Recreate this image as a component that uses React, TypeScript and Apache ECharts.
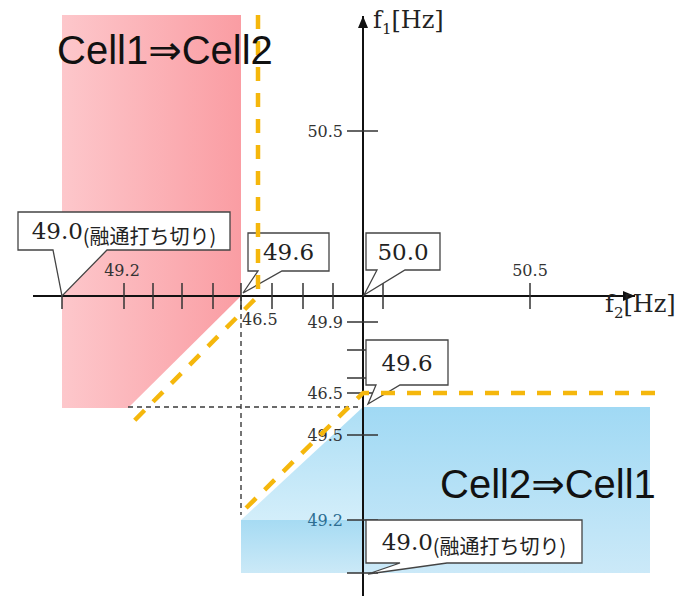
import { useEffect, useRef } from 'react';
import * as echarts from 'echarts';

// ---------- data (diagram units; origin = crossing of the f1 and f2 axes) ----------
const X_EXTENT = [-363, 318];
const Y_EXTENT = [-303, 296];

const F2_AXIS_LINE = [[-330, 0], [272, 0]];
const F1_AXIS_LINE = [[0, -300], [0, 280]];

const F2_TICKS = [-301, -239, -210, -181, -150, -122, -91, -60, -30, 20, 167];
const F1_TICKS = [165, -26, -54, -82, -97, -139, -224, -277];

const F2_TICK_LABELS = ['49.2', '46.5', '50.5'];
const F2_TICK_LABEL_VALUES = [-241, -121, 167];
const F1_TICK_LABELS = ['50.5', '49.9', '46.5', '49.5', '49.2'];
const F1_TICK_LABEL_VALUES = [165, -26, -97, -139, -224];

const CELL1_TO_CELL2_AREA = [[-301, 281], [-122, 281], [-122, 0], [-235, -112], [-301, -112]];
const CELL2_TO_CELL1_AREA_MAIN = [[0, -111], [287, -111], [287, -277], [0, -277]];
const CELL2_TO_CELL1_AREA_DIAG = [[0, -111], [0, -224], [-122, -224]];
const CELL2_TO_CELL1_AREA_LOW = [[-122, -224], [0, -224], [0, -277], [-122, -277]];

const THRESHOLD_CELL1 = [[-105, 281], [-105, 0], [-236, -132]];
const THRESHOLD_CELL2 = [[292, -97], [0, -97], [-123, -218]];

const GUIDE_VERTICAL = [[-122, 0], [-122, -219]];
const GUIDE_HORIZONTAL = [[-235, -111], [0, -111]];

const CALLOUT_VALUES = ['49.0', '49.6', '50.0', '49.6', '49.0'];
const CALLOUT_NOTES = ['(融通打ち切り)', '', '', '', '(融通打ち切り)'];
const CALLOUT_TARGETS = [[-301, 0], [-120, 3], [1, 1], [5, -108], [5, -278]];

const AREA_TITLES = ['Cell1⇒Cell2', 'Cell2⇒Cell1'];
const AREA_TITLE_ANCHORS = [[-306, 246], [77, -188]];
const AXIS_NAMES = [['f', '1', '[Hz]'], ['f', '2', '[Hz]']];
const AXIS_NAME_ANCHORS = [[10, 276], [242, -8]];

// ---------- layout & styles ----------
const CALLOUT_BOXES = [
  { left: -345, right: -133, top: 84, bottom: 46, tailL: -310, tailR: -256 },
  { left: -115, right: -34, top: 63, bottom: 25, tailL: -105, tailR: -81 },
  { left: 3, right: 77, top: 63, bottom: 26, tailL: 14, tailR: 42 },
  { left: 3, right: 85, top: -44, bottom: -89, tailL: 13, tailR: 37 },
  { left: 3, right: 219, top: -224, bottom: -267, tailL: 37, tailR: 84 },
];

const YELLOW = '#f5b70c';
const SERIF = '"DejaVu Serif", "Liberation Serif", serif';
const SANS = '"Liberation Sans", Arial, "DejaVu Sans", sans-serif';
const CJK = '"Noto Sans CJK JP", sans-serif';

const grad = (x2: number, y2: number, c0: string, c1: string) =>
  new echarts.graphic.LinearGradient(0, 0, x2, y2, [
    { offset: 0, color: c0 },
    { offset: 1, color: c1 },
  ]);

const REGIONS = [CELL1_TO_CELL2_AREA, CELL2_TO_CELL1_AREA_MAIN, CELL2_TO_CELL1_AREA_DIAG, CELL2_TO_CELL1_AREA_LOW];
const REGION_FILLS = [
  () => grad(1, 0, '#fdc7cb', '#fa9da3'),
  () => grad(0, 1, '#a0d9f4', '#cbe9f8'),
  () => grad(0, 1, '#acdef5', '#d3eefa'),
  () => grad(0, 1, '#a6dbf3', '#cbe9f7'),
];

function lineSeries(name: string, data: number[][], color: string, width: number, type: any, z: number) {
  return {
    type: 'line',
    name,
    data,
    z,
    silent: true,
    symbol: 'none',
    showSymbol: false,
    clip: false,
    lineStyle: { color, width, type, cap: 'butt' },
  };
}

export default function App() {
  const ref = useRef<HTMLDivElement>(null);

  useEffect(() => {
    if (!ref.current) return;
    const chart = echarts.init(ref.current, undefined, { renderer: 'svg' });

    const option: any = {
      animation: false,
      backgroundColor: '#ffffff',
      grid: { left: 0, right: 0, top: 0, bottom: 0 },
      xAxis: { type: 'value', min: X_EXTENT[0], max: X_EXTENT[1], show: false },
      yAxis: { type: 'value', min: Y_EXTENT[0], max: Y_EXTENT[1], show: false },
      series: [
        {
          type: 'custom',
          name: 'regions',
          z: 1,
          silent: true,
          data: REGIONS.map(() => [0, 0]),
          renderItem: (params: any, api: any) => {
            const pts = REGIONS[params.dataIndex].map((p) => api.coord(p));
            return { type: 'polygon', shape: { points: pts }, style: { fill: REGION_FILLS[params.dataIndex]() } };
          },
        },
        lineSeries('guideV', GUIDE_VERTICAL, '#3a3a3a', 1.4, [5, 4], 2),
        lineSeries('guideH', GUIDE_HORIZONTAL, '#3a3a3a', 1.4, [5, 4], 2),
        lineSeries('f2Axis', F2_AXIS_LINE, '#111111', 2, 'solid', 4),
        lineSeries('f1Axis', F1_AXIS_LINE, '#111111', 2, 'solid', 4),
        {
          type: 'custom',
          name: 'f2Ticks',
          z: 5,
          silent: true,
          data: F2_TICKS.map((v) => [v, 0]),
          renderItem: (_p: any, api: any) => {
            const c = api.coord([api.value(0), 0]);
            return {
              type: 'line',
              shape: { x1: c[0], y1: c[1] - 13, x2: c[0], y2: c[1] + 13 },
              style: { stroke: '#333333', lineWidth: 1.5 },
            };
          },
        },
        {
          type: 'custom',
          name: 'f1Ticks',
          z: 5,
          silent: true,
          data: F1_TICKS.map((v) => [0, v]),
          renderItem: (_p: any, api: any) => {
            const c = api.coord([0, api.value(1)]);
            return {
              type: 'line',
              shape: { x1: c[0] - 16, y1: c[1], x2: c[0] + 15, y2: c[1] },
              style: { stroke: '#333333', lineWidth: 1.5 },
            };
          },
        },
        {
          type: 'custom',
          name: 'arrows',
          z: 5,
          silent: true,
          data: [F2_AXIS_LINE[1], F1_AXIS_LINE[1]],
          renderItem: (params: any, api: any) => {
            const t = api.coord([api.value(0), api.value(1)]);
            const pts =
              params.dataIndex === 0
                ? [[t[0], t[1]], [t[0] - 12, t[1] - 5], [t[0] - 12, t[1] + 5]]
                : [[t[0], t[1]], [t[0] - 5, t[1] + 12], [t[0] + 5, t[1] + 12]];
            return { type: 'polygon', shape: { points: pts }, style: { fill: '#111111' } };
          },
        },
        {
          type: 'custom',
          name: 'f2TickLabels',
          z: 6,
          silent: true,
          data: F2_TICK_LABEL_VALUES.map((v) => [v, 0]),
          renderItem: (params: any, api: any) => {
            const i = params.dataIndex;
            const c = api.coord([api.value(0), 0]);
            const below = F2_TICK_LABELS[i] === '46.5';
            return {
              type: 'text',
              x: c[0],
              y: below ? c[1] + 23 : c[1] - 26,
              style: {
                text: F2_TICK_LABELS[i],
                fontFamily: SERIF,
                fontSize: 16,
                fill: '#333333',
                align: below ? 'left' : 'center',
                verticalAlign: 'middle',
              },
            };
          },
        },
        {
          type: 'custom',
          name: 'f1TickLabels',
          z: 6,
          silent: true,
          data: F1_TICK_LABEL_VALUES.map((v) => [0, v]),
          renderItem: (params: any, api: any) => {
            const i = params.dataIndex;
            const c = api.coord([0, api.value(1)]);
            const isBlue = i === F1_TICK_LABELS.length - 1;
            return {
              type: 'text',
              x: c[0] - 20,
              y: c[1],
              style: {
                text: F1_TICK_LABELS[i],
                fontFamily: SERIF,
                fontSize: 16,
                fill: isBlue ? '#2d6e92' : '#333333',
                align: 'right',
                verticalAlign: 'middle',
              },
            };
          },
        },
        {
          type: 'custom',
          name: 'callouts',
          z: 7,
          silent: true,
          data: CALLOUT_TARGETS,
          renderItem: (params: any, api: any) => {
            const i = params.dataIndex;
            const b = CALLOUT_BOXES[i];
            const P = (x: number, y: number) => api.coord([x, y]);
            const tip = api.coord([api.value(0), api.value(1)]);
            const pts = [
              P(b.left, b.top),
              P(b.right, b.top),
              P(b.right, b.bottom),
              P(b.tailR, b.bottom),
              tip,
              P(b.tailL, b.bottom),
              P(b.left, b.bottom),
            ];
            const center = P((b.left + b.right) / 2, (b.top + b.bottom) / 2);
            const note = CALLOUT_NOTES[i];
            return {
              type: 'group',
              children: [
                {
                  type: 'polygon',
                  shape: { points: pts },
                  style: { fill: '#ffffff', stroke: '#444444', lineWidth: 1.3 },
                },
                {
                  type: 'text',
                  x: center[0],
                  y: center[1],
                  style: {
                    text: note ? `{v|${CALLOUT_VALUES[i]}}{n|${note}}` : `{v|${CALLOUT_VALUES[i]}}`,
                    align: 'center',
                    verticalAlign: 'middle',
                    rich: {
                      v: { fontFamily: SERIF, fontSize: 23, lineHeight: 28, fill: '#222222' },
                      n: { fontFamily: CJK, fontSize: 20, lineHeight: 26, verticalAlign: 'bottom', fill: '#222222' },
                    },
                  },
                },
              ],
            };
          },
        },
        lineSeries('thresholdCell1', THRESHOLD_CELL1, YELLOW, 4.5, [14, 12], 8),
        lineSeries('thresholdCell2', THRESHOLD_CELL2, YELLOW, 4.5, [14, 12], 8),
        {
          type: 'custom',
          name: 'areaTitles',
          z: 9,
          silent: true,
          data: AREA_TITLE_ANCHORS,
          renderItem: (params: any, api: any) => {
            const c = api.coord([api.value(0), api.value(1)]);
            return {
              type: 'text',
              x: c[0],
              y: c[1],
              style: {
                text: AREA_TITLES[params.dataIndex],
                fontFamily: SANS,
                fontSize: 40,
                fill: '#111111',
                align: 'left',
                verticalAlign: 'middle',
              },
            };
          },
        },
        {
          type: 'custom',
          name: 'axisNames',
          z: 9,
          silent: true,
          data: AXIS_NAME_ANCHORS,
          renderItem: (params: any, api: any) => {
            const c = api.coord([api.value(0), api.value(1)]);
            const [f, sub, unit] = AXIS_NAMES[params.dataIndex];
            return {
              type: 'text',
              x: c[0],
              y: c[1],
              style: {
                text: `{a|${f}}{s|${sub}}{a|${unit}}`,
                align: 'left',
                verticalAlign: 'middle',
                rich: {
                  a: { fontFamily: SERIF, fontSize: 24, lineHeight: 32, fill: '#222222' },
                  s: { fontFamily: SERIF, fontSize: 15, lineHeight: 16, verticalAlign: 'bottom', fill: '#222222' },
                },
              },
            };
          },
        },
      ],
    };

    chart.setOption(option);
    return () => chart.dispose();
  }, []);

  return (
    <div
      ref={ref}
      style={{ position: 'fixed', left: 0, top: 0, width: 681, height: 599, background: '#ffffff' }}
    />
  );
}
